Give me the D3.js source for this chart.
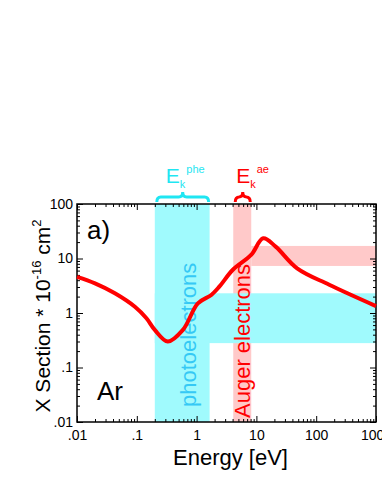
<!DOCTYPE html>
<html>
<head>
<meta charset="utf-8">
<script src="https://cdn.jsdelivr.net/npm/d3@7"></script>
<style>
  body { margin: 0; background: #fff; }
  svg { font-family: "Liberation Sans", Arial, sans-serif; }
</style>
</head>
<body>
<div id="chart"></div>
<script>
// curve (energy in eV, cross section in 1e-16 cm2)
var energy = [0.01, 0.02, 0.043, 0.093, 0.145, 0.2, 0.33, 0.59, 1.05, 1.76, 2.4, 4.0, 8.15, 13, 21, 48, 165, 1000];
var xsec   = [4.6, 3.5, 2.3, 1.3, 0.8, 0.49, 0.30, 0.49, 1.5, 2.14, 3.04, 6.15, 11.6, 23.5, 16.5, 6.6, 3.3, 1.34];

// shaded ranges
var pheRange = [0.2, 1.65];     // photoelectron energies
var aeRange = [4.1, 8.2];       // auger electron energies
var pheXsec = [0.28, 2.3];
var aeXsec = [7.3, 17];

var xTicks = [0.01, 0.1, 1, 10, 100, 1000];
var xTickLabels = [".01", ".1", "1", "10", "100", "1000"];
var yTicks = [0.01, 0.1, 1, 10, 100];
var yTickLabels = [".01", ".1", "1", "10", "100"];

var svgWidth = 382, svgHeight = 494;
var margin = { top: 204, right: 6, bottom: 72, left: 77 };
var width = 376 - margin.left;
var height = 422 - margin.top;

var cyanFill = "#a0fafd", pinkFill = "#ffc9c9";
var cyanText = "#35c9f5", cyanLabel = "#1fe6f2", red = "#ff0000";

var svg = d3.select("#chart").append("svg")
    .attr("width", svgWidth)
    .attr("height", svgHeight);

var g = svg.append("g")
    .attr("transform", `translate(${margin.left}, ${margin.top})`);

var xScale = d3.scaleLog().domain([0.01, 1000]).range([0, width]);
var yScale = d3.scaleLog().domain([0.01, 100]).range([height, 0]);

// bands
g.append("rect")
    .attr("x", xScale(pheRange[0])).attr("y", 0)
    .attr("width", xScale(pheRange[1]) - xScale(pheRange[0]))
    .attr("height", height)
    .attr("fill", cyanFill);
g.append("rect")
    .attr("x", xScale(aeRange[0])).attr("y", 0)
    .attr("width", xScale(aeRange[1]) - xScale(aeRange[0]))
    .attr("height", height)
    .attr("fill", pinkFill);
g.append("rect")
    .attr("x", xScale(pheRange[0])).attr("y", yScale(pheXsec[1]))
    .attr("width", width - xScale(pheRange[0]))
    .attr("height", yScale(pheXsec[0]) - yScale(pheXsec[1]))
    .attr("fill", cyanFill);
g.append("rect")
    .attr("x", xScale(aeRange[1])).attr("y", yScale(aeXsec[1]))
    .attr("width", width - xScale(aeRange[1]))
    .attr("height", yScale(aeXsec[0]) - yScale(aeXsec[1]))
    .attr("fill", pinkFill);

// vertical labels in the bands
g.append("text")
    .attr("transform", `translate(${xScale(pheRange[0]) + 41}, ${height - 15}) rotate(-90)`)
    .attr("font-size", "22px")
    .attr("fill", cyanText)
    .text("photoelectrons");
g.append("text")
    .attr("transform", `translate(${xScale(aeRange[0]) + 17}, ${height - 4}) rotate(-90)`)
    .attr("font-size", "22px")
    .attr("fill", red)
    .text("Auger electrons");

// minor ticks
var minor = [];
for (var p = -2; p < 3; p++) {
  for (var m = 2; m < 10; m++) minor.push(m * Math.pow(10, p));
}
var minorY = minor.filter(d => d < 100);

function styleAxis(sel) {
  sel.select(".domain").remove();
  sel.selectAll("line").attr("stroke", "#000").attr("stroke-width", 1);
  sel.selectAll("text").attr("font-size", "14px").attr("fill", "#000")
    .attr("font-family", "Liberation Sans, Arial, sans-serif");
}

g.append("g").attr("transform", `translate(0, ${height})`)
    .call(d3.axisBottom(xScale).tickValues(xTicks).tickSize(-6).tickPadding(8)
      .tickFormat((d, i) => xTickLabels[i]))
    .call(styleAxis);
g.append("g").attr("transform", `translate(0, ${height})`)
    .call(d3.axisBottom(xScale).tickValues(minor).tickSize(-3).tickFormat(""))
    .call(styleAxis);
g.append("g")
    .call(d3.axisTop(xScale).tickValues(xTicks).tickSize(-6).tickFormat(""))
    .call(styleAxis);
g.append("g")
    .call(d3.axisTop(xScale).tickValues(minor).tickSize(-3).tickFormat(""))
    .call(styleAxis);
g.append("g")
    .call(d3.axisLeft(yScale).tickValues(yTicks).tickSize(-6).tickPadding(4)
      .tickFormat((d, i) => yTickLabels[i]))
    .call(styleAxis);
g.append("g")
    .call(d3.axisLeft(yScale).tickValues(minorY).tickSize(-3).tickFormat(""))
    .call(styleAxis);
g.append("g").attr("transform", `translate(${width}, 0)`)
    .call(d3.axisRight(yScale).tickValues(yTicks).tickSize(-6).tickFormat(""))
    .call(styleAxis);
g.append("g").attr("transform", `translate(${width}, 0)`)
    .call(d3.axisRight(yScale).tickValues(minorY).tickSize(-3).tickFormat(""))
    .call(styleAxis);

// frame
g.append("rect")
    .attr("width", width).attr("height", height)
    .attr("fill", "none").attr("stroke", "#000").attr("stroke-width", 1.5);

// the cross section curve
var line = d3.line()
    .x(d => xScale(d[0]))
    .y(d => yScale(d[1]))
    .curve(d3.curveCatmullRom.alpha(0.5));

g.append("path")
    .datum(energy.map((e, i) => [e, xsec[i]]))
    .attr("d", line)
    .attr("fill", "none")
    .attr("stroke", red)
    .attr("stroke-width", 4)
    .attr("stroke-linejoin", "round");

// panel labels
g.append("text").attr("x", 10).attr("y", 35)
    .attr("font-size", "26px").text("a)");
g.append("text").attr("x", 20).attr("y", 196)
    .attr("font-size", "26px").text("Ar");

// axis titles
svg.append("text")
    .attr("x", margin.left + width / 2 + 4).attr("y", 465)
    .attr("text-anchor", "middle")
    .attr("font-size", "22px")
    .text("Energy [eV]");

var yLab = svg.append("text")
    .attr("transform", `translate(50, 316) rotate(-90)`)
    .attr("text-anchor", "middle")
    .attr("font-size", "21px");
yLab.append("tspan").text("X Section * 10");
yLab.append("tspan").attr("font-size", "13px").attr("dy", -9).text("-16");
yLab.append("tspan").attr("dy", 9).text(" cm");
yLab.append("tspan").attr("font-size", "13px").attr("dy", -9).text("2");

// braces with E_k labels above the plot
function brace(x0, x1, yTop, yBot) {
  var mid = (x0 + x1) / 2, r = 4, yMid = (yTop + yBot) / 2;
  return `M${x0},${yBot} Q${x0},${yMid} ${x0 + r},${yMid} L${mid - r},${yMid} Q${mid},${yMid} ${mid},${yTop}` +
         ` Q${mid},${yMid} ${mid + r},${yMid} L${x1 - r},${yMid} Q${x1},${yMid} ${x1},${yBot}`;
}

function ekLabel(range, sup, colour, xOff) {
  var x0 = margin.left + xScale(range[0]), x1 = margin.left + xScale(range[1]);
  svg.append("path")
      .attr("d", brace(x0 + 2, x1 - 1, 192, 202))
      .attr("fill", "none")
      .attr("stroke", colour)
      .attr("stroke-width", 3);
  var t = svg.append("text")
      .attr("x", x0 + xOff).attr("y", 183)
      .attr("fill", colour)
      .attr("font-size", "21px");
  t.append("tspan").text("E");
  t.append("tspan").attr("font-size", "11px").attr("dy", 5).text("k");
  t.append("tspan").attr("font-size", "11px").attr("dy", -15).attr("dx", 1).text(sup);
}
ekLabel(pheRange, "phe", cyanLabel, 11);
ekLabel(aeRange, "ae", red, 3);
</script>
</body>
</html>
